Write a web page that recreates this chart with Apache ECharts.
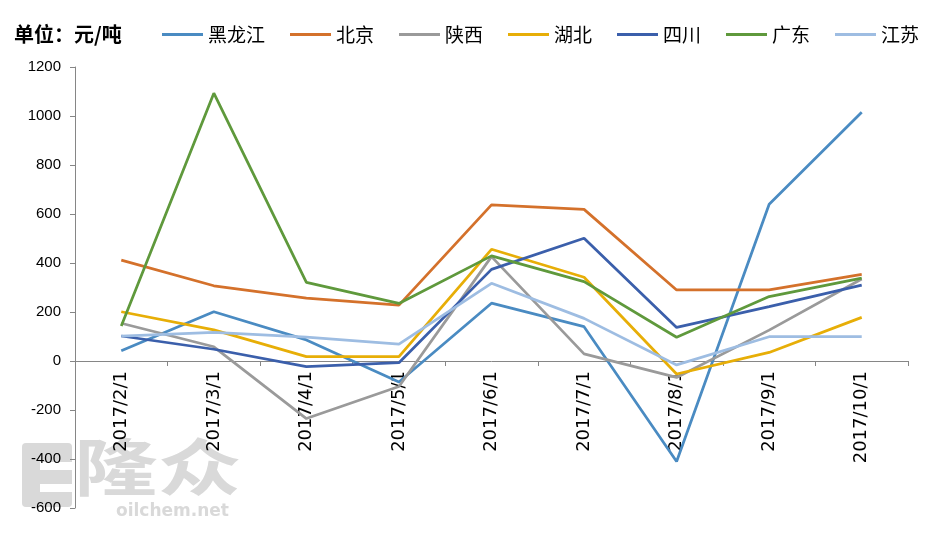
<!DOCTYPE html>
<html>
<head>
<meta charset="utf-8">
<script src="https://cdn.jsdelivr.net/npm/echarts@6/dist/echarts.min.js"></script>
<style>
  html, body { margin: 0; padding: 0; background: #fff; }
  #main { width: 932px; height: 533px; }
</style>
</head>
<body>
<div id="main"></div>
<script>
// 月份
var months = ["2017/2/1", "2017/3/1", "2017/4/1", "2017/5/1", "2017/6/1", "2017/7/1", "2017/8/1", "2017/9/1", "2017/10/1"];
// 各地区价差 元/吨
var heilongjiang = [42, 201, 86, -86, 236, 140, -410, 640, 1015];
var beijing = [412, 307, 257, 228, 637, 619, 290, 290, 354];
var shaanxi = [154, 58, -235, -104, 426, 29, -67, 126, 335];
var hubei = [201, 127, 18, 18, 456, 342, -53, 35, 178];
var sichuan = [102, 48, -23, -7, 374, 501, 137, 222, 310];
var guangdong = [143, 1093, 321, 235, 429, 324, 97, 263, 338];
var jiangsu = [102, 117, 97, 69, 317, 174, -16, 99, 99];

var names = ["黑龙江", "北京", "陕西", "湖北", "四川", "广东", "江苏"];
var values = [heilongjiang, beijing, shaanxi, hubei, sichuan, guangdong, jiangsu];
var colors = ["#4a8bc2", "#d4712b", "#9a9a9a", "#e7ae07", "#3b5fab", "#5f993c", "#9ebde2"];

var chart = echarts.init(document.getElementById("main"));

var series = names.map(function (n, i) {
  return {
    name: n,
    type: "line",
    data: values[i],
    symbol: "none",
    z: 3,
    lineStyle: { width: 2.75, color: colors[i] },
    itemStyle: { color: colors[i] }
  };
});

// 把x轴挪到0的位置
var plotH = 533 - 67 - 25;
var zeroOffset = -Math.round(plotH * 600 / 1800);

var option = {
  animation: false,
  color: colors,
  title: {
    text: "单位：元/吨",
    left: 9,
    top: 19,
    textStyle: {
      fontFamily: "Noto Sans CJK SC",
      fontSize: 20,
      fontWeight: "bold",
      color: "#000"
    }
  },
  legend: {
    left: 157,
    top: 20,
    icon: "rect",
    itemWidth: 41,
    itemHeight: 3,
    itemGap: 25,
    data: names,
    textStyle: {
      fontFamily: "Noto Sans CJK SC",
      fontSize: 19,
      color: "#000"
    }
  },
  grid: {
    left: 75,
    right: 24,
    top: 67,
    bottom: 25,
    outerBoundsMode: "none",
    containLabel: false
  },
  xAxis: {
    type: "category",
    data: months,
    position: "bottom",
    offset: zeroOffset,
    axisLine: { onZero: false, lineStyle: { color: "#868686", width: 1 } },
    axisTick: { show: true, length: 5, lineStyle: { color: "#868686" } },
    axisLabel: {
      rotate: 90,
      margin: 10,
      fontFamily: "DejaVu Sans",
      fontSize: 18,
      color: "#000"
    },
    splitLine: { show: false }
  },
  yAxis: {
    type: "value",
    min: -600,
    max: 1200,
    interval: 200,
    axisLine: { show: true, lineStyle: { color: "#868686", width: 1 } },
    axisTick: { show: true, length: 5, lineStyle: { color: "#868686" } },
    axisLabel: {
      fontFamily: "Liberation Sans",
      fontSize: 15,
      color: "#000",
      margin: 14,
      formatter: function (v) { return String(v); }
    },
    splitLine: { show: false }
  },
  // 水印
  graphic: [
    { type: "rect", z: -10, silent: true, shape: { x: 22, y: 443, width: 50, height: 64, r: 4 }, style: { fill: "#d9d9d9" } },
    { type: "rect", z: -9, silent: true, shape: { x: 40, y: 462, width: 32, height: 8 }, style: { fill: "#fff" } },
    { type: "rect", z: -9, silent: true, shape: { x: 40, y: 484, width: 32, height: 8 }, style: { fill: "#fff" } },
    { type: "text", z: -10, silent: true, left: 74, top: 436, scaleX: 1.35, style: { text: "隆众", fill: "#d9d9d9", font: "bold 62px 'Noto Sans CJK SC'" } },
    { type: "text", z: -10, silent: true, left: 116, top: 503, style: { text: "oilchem.net", fill: "#d9d9d9", font: "bold 17px 'DejaVu Sans'" } }
  ],
  series: series
};

chart.setOption(option);
</script>
</body>
</html>
